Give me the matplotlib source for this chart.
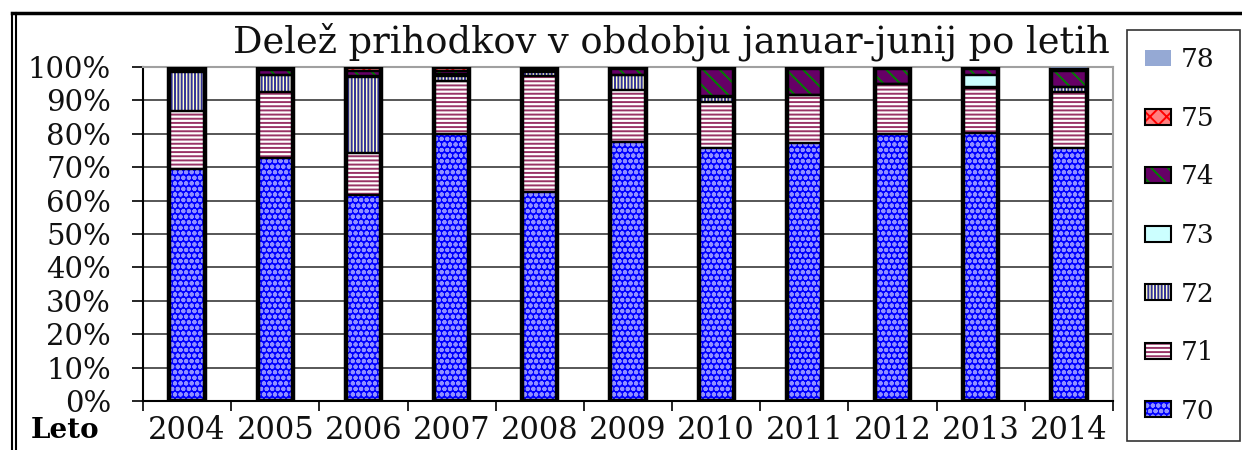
import matplotlib
matplotlib.use("Agg")
import matplotlib.pyplot as plt
import numpy as np
from matplotlib.patches import Patch
from matplotlib.lines import Line2D

plt.rcParams['font.family'] = ['DejaVu Serif']
plt.rcParams['hatch.linewidth'] = 1.4

# share of revenue (%) by account group, Jan-Jun, per year
years = ['2004', '2005', '2006', '2007', '2008', '2009', '2010', '2011', '2012', '2013', '2014']
s70 = [69.5, 72.8, 61.7, 79.8, 62.5, 77.4, 75.8, 77.2, 79.9, 80.1, 75.7]
s71 = [17.2, 19.8, 12.5, 16.0, 34.9, 15.7, 13.8, 14.4, 14.9, 13.5, 16.9]
s72 = [11.9, 5.0, 22.9, 1.6, 1.2, 4.5, 1.5, 0.0, 0.0, 0.3, 1.3]
s73 = [0.2, 0.1, 0.2, 0.5, 0.1, 0.1, 0.1, 0.0, 0.0, 3.6, 0.1]
s74 = [0.2, 1.5, 1.5, 0.8, 0.4, 1.7, 8.5, 8.0, 4.8, 2.3, 5.2]
s75 = [1.0, 0.8, 1.2, 1.3, 0.9, 0.6, 0.0, 0.0, 0.0, 0.0, 0.0]
s78 = [0.0, 0.0, 0.0, 0.0, 0.0, 0.0, 0.3, 0.4, 0.4, 0.2, 0.8]

names = ['70', '71', '72', '73', '74', '75', '78']
series = [s70, s71, s72, s73, s74, s75, s78]
# (face, hatch colour, hatch, outlined)
styles = [
    ('#0000ff', '#9090ff', 'ooo', True),
    ('#ffffff', '#993366', '----', True),
    ('#ffffcc', '#333399', '|||||', True),
    ('#ccffff', None, None, True),
    ('#660066', '#008000', '\\\\', True),
    ('#ff8080', '#ff0000', 'xx', True),
    ('#95a9d4', None, None, False),
]

data = np.array(series, dtype=float)
data = data / data.sum(axis=0) * 100

fig = plt.figure(figsize=(12.42, 4.5), dpi=100)
ax = fig.add_axes([143/1242, 1-401/450, (1113-143)/1242, (401-67)/450])

x = np.arange(len(years))
w = 0.4
bottom = np.zeros(len(years))
for vals, (face, hcol, hatch, outl) in zip(data, styles):
    if hatch:
        ax.bar(x, vals, w, bottom=bottom, color=face, edgecolor=hcol, hatch=hatch, linewidth=0, zorder=3)
    else:
        ax.bar(x, vals, w, bottom=bottom, color=face, linewidth=0, zorder=3)
    if outl:
        ax.bar(x, vals, w, bottom=bottom, fill=False, edgecolor='black', linewidth=1.6, zorder=4)
    bottom += vals

# heavy frame round the outlined part of each column
outl_total = data[:6].sum(axis=0)
ax.bar(x, outl_total, w, fill=False, edgecolor='black', linewidth=3.2, zorder=5)

ax.set_xlim(-0.5, len(years) - 0.5)
ax.set_ylim(0, 100)
ax.set_yticks(np.arange(0, 101, 10))
ax.set_yticklabels([f'{v}%' for v in range(0, 101, 10)], fontsize=21, color='#111111')
ax.yaxis.grid(True, color='#3a3a3a', linewidth=1.2, zorder=0)
ax.set_xticks(np.arange(-0.5, len(years), 1.0))
ax.set_xticklabels([])
ax.set_xticks(x, minor=True)
ax.set_xticklabels(years, minor=True, fontsize=22, color='#111111')
ax.tick_params(axis='x', which='major', length=7, width=1.2, direction='out')
ax.tick_params(axis='x', which='minor', length=0, pad=10)
ax.tick_params(axis='y', length=8, width=1.2, pad=15)
for s in ['left', 'bottom']:
    ax.spines[s].set_color('black')
    ax.spines[s].set_linewidth(1.5)
for s in ['top', 'right']:
    ax.spines[s].set_color('#a0a0a0')
    ax.spines[s].set_linewidth(1.5)

fig.text(671/1242, 1-42/450, 'Delež prihodkov v obdobju januar-junij po letih',
         ha='center', va='center', fontsize=26.5, color='#111111')
fig.text(65/1242, 1-431/450, 'Leto', ha='center', va='center', fontsize=20, fontweight='bold')

# outer frame lines
fig.add_artist(Line2D([12/1242, 1], [1-13/450, 1-13/450], color='black', linewidth=2.5, transform=fig.transFigure))
fig.add_artist(Line2D([12/1242, 12/1242], [0, 1-13/450], color='black', linewidth=1.5, transform=fig.transFigure))
fig.add_artist(Line2D([16/1242, 16/1242], [0, 1-13/450], color='black', linewidth=1.5, transform=fig.transFigure))

handles = []
for face, hcol, hatch, outl in styles:
    if hatch:
        fill = Patch(facecolor=face, edgecolor=hcol, hatch=hatch, linewidth=0)
    else:
        fill = Patch(facecolor=face, linewidth=0)
    if outl:
        handles.append((fill, Patch(fill=False, edgecolor='black', linewidth=1.5)))
    else:
        handles.append(fill)
leg = fig.legend(handles[::-1], names[::-1], loc='upper left',
                 bbox_to_anchor=(1127/1242, 1-34/450, (1240-1127)/1242, 0.01), mode='expand',
                 fontsize=19, frameon=True, fancybox=False, edgecolor='black',
                 handlelength=1.0, handleheight=0.55, handletextpad=0.35,
                 labelspacing=1.27, borderpad=0.68, borderaxespad=0)
leg.get_frame().set_linewidth(1.2)
for t in leg.get_texts():
    t.set_color('#111111')

fig.savefig('out.png', dpi=100)
